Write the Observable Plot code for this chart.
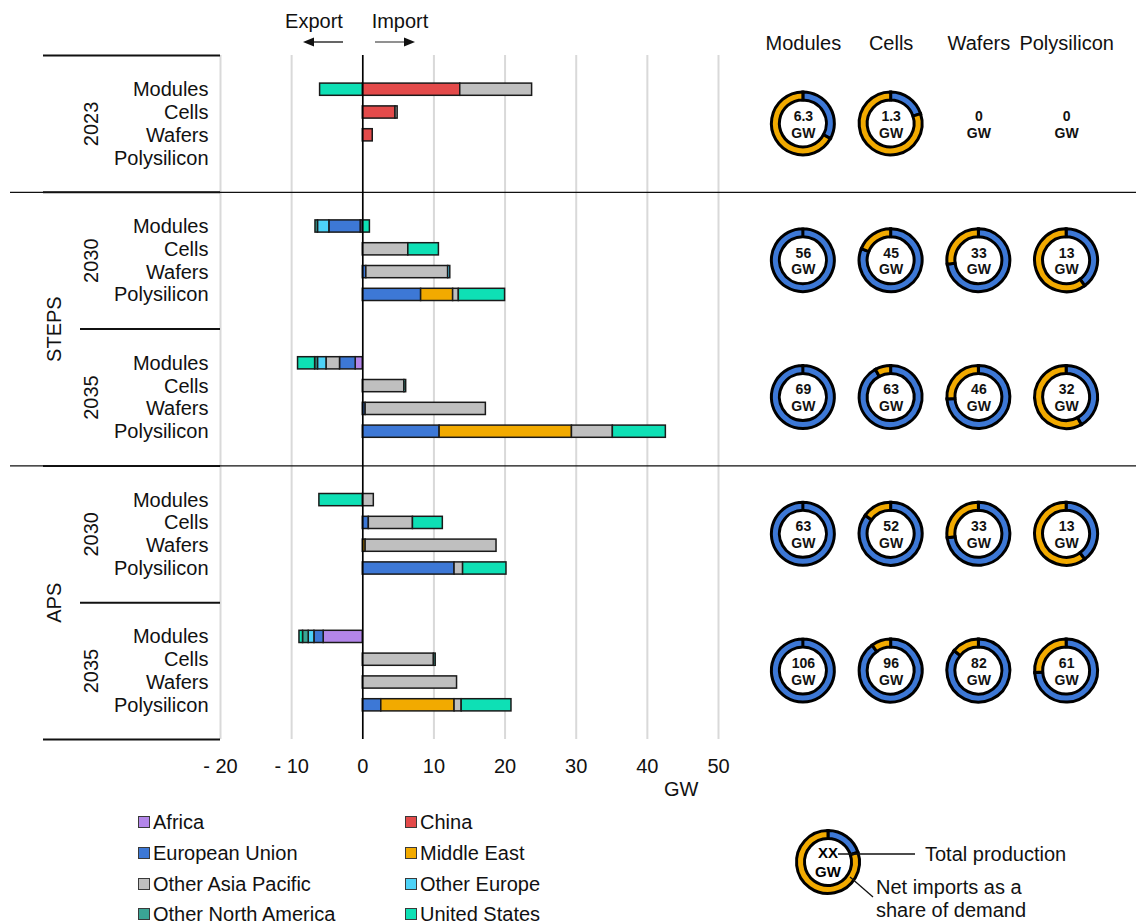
<!DOCTYPE html>
<html><head><meta charset="utf-8">
<script src="https://cdn.jsdelivr.net/npm/d3@7"></script>
<script src="https://cdn.jsdelivr.net/npm/@observablehq/plot@0.6"></script>
<style>
body{margin:0;background:#fff;font-family:"Liberation Sans",Arial,sans-serif;color:#111;}
#wrap{position:relative;width:1136px;height:924px;overflow:hidden;background:#fff;}
#wrap > svg{position:absolute;left:0;top:0;}
.leg{position:absolute;font-size:20px;line-height:18px;white-space:nowrap;display:flex;align-items:center;}
.sw{display:inline-block;width:10px;height:10px;border:1.5px solid #3a3a3a;margin-right:3px;}
</style></head><body><div id="wrap"></div>
<script>
// ---------- data ----------
const groups = ["2023", "STEPS 2030", "STEPS 2035", "APS 2030", "APS 2035"];
const groupYears = ["2023", "2030", "2035", "2030", "2035"];
const scenarios = ["STEPS", "APS"];
const stages = ["Modules", "Cells", "Wafers", "Polysilicon"];
const regions = ["Africa", "China", "European Union", "Middle East", "Other Asia Pacific", "Other Europe", "Other North America", "United States"];
const regionColors = ["#b386e9", "#e34a4a", "#3d78d6", "#f2aa00", "#bfbfbf", "#4dd2f7", "#3aa595", "#0ee0b5"];
const xTicks = [-20, -10, 0, 10, 20, 30, 40, 50];

// GW, rows = groups x stages (Modules, Cells, Wafers, Polysilicon); negative = export
const africa            = [0, 0, 0, 0,      -0.3, 0, 0, 0,      -1.0, 0, 0, 0,       0, 0, 0, 0,        -5.5, 0, 0, 0];
const china             = [13.7, 4.6, 1.4, 0, 0, 0, 0, 0,        0, 0, 0, 0,          0, 0, 0, 0,         0, 0, 0, 0];
const europeanUnion     = [0, 0, 0, 0,      -4.4, 0, 0.5, 8.2,  -2.2, 0, 0.4, 10.8,  0, 0.85, 0, 12.9,   -1.3, 0, 0, 2.6];
const middleEast        = [0, 0, 0, 0,       0, 0, 0, 4.5,       0, 0, 0, 18.6,      0, 0, 0.4, 0,        0, 0, 0, 10.3];
const otherAsiaPacific  = [10.1, 0.3, 0, 0,  0, 6.4, 11.5, 0.8, -1.9, 5.85, 16.9, 5.75, 1.55, 6.2, 18.4, 1.2, 0, 10.0, 13.25, 1.0];
const otherEurope       = [0, 0, 0, 0,      -1.6, 0, 0.3, 0,    -1.2, 0, 0, 0,       0, 0, 0, 0,        -0.8, 0, 0, 0];
const otherNorthAmerica = [0, 0, 0, 0,      -0.35, 0, 0, 0,     -0.4, 0.25, 0, 0,    0, 0, 0, 0,        -0.8, 0.25, 0, 0];
const unitedStates      = [-6.0, 0, 0, 0,    1.0, 4.3, 0, 6.5,  -2.4, 0, 0, 7.45,   -6.1, 4.2, 0, 6.1,  -0.5, 0, 0, 7.0];
const regionValues = [africa, china, europeanUnion, middleEast, otherAsiaPacific, otherEurope, otherNorthAmerica, unitedStates];

// donuts: total production (GW) and net imports as share of demand
const production = [[6.3, 1.3, 0, 0], [56, 45, 33, 13], [69, 63, 46, 32], [63, 52, 33, 13], [106, 96, 82, 61]];
const importShare = [[0.67, 0.80, 0, 0], [0, 0.19, 0.27, 0.60], [0, 0.08, 0.26, 0.58], [0, 0.15, 0.27, 0.60], [0, 0.10, 0.14, 0.26]];

const BLUE = "#3d78d6", ORANGE = "#f2aa00";
const FONT = "Liberation Sans, Arial, sans-serif";

// ---------- derived tables ----------
const slotKeys = groups.flatMap(g => [g + "|a", ...stages.map(s => g + "|" + s), g + "|b"]);
const bars = [];
groups.forEach((g, gi) => stages.forEach((s, si) => {
  const row = gi * 4 + si;
  regions.forEach((r, ri) => {
    const v = regionValues[ri][row];
    if (v !== 0) bars.push({key: g + "|" + s, region: r, value: v});
  });
}));
const donutRows = [];
groups.forEach((g, gi) => stages.forEach((s, si) =>
  donutRows.push({group: g, stage: s, prod: production[gi][si], share: importShare[gi][si]})));

const wrap = document.getElementById("wrap");
const step = 684 / 30, half = step / 2;

// ---------- main bar chart ----------
const main = Plot.plot({
  width: 1136, height: 800,
  marginLeft: 220, marginRight: 418, marginTop: 55, marginBottom: 61,
  style: {fontFamily: FONT, fontSize: "20px", background: "transparent", overflow: "visible", color: "#111"},
  x: {domain: [-20, 50], ticks: xTicks, tickFormat: d => d < 0 ? `- ${-d}` : `${d}`, tickSize: 0, tickPadding: 19, label: null},
  y: {type: "band", domain: slotKeys, padding: 0, round: false, tickSize: 0, tickPadding: 12, label: null,
      tickFormat: d => { const s = d.split("|")[1]; return stages.includes(s) ? s : ""; }},
  color: {domain: regions, range: regionColors},
  marks: [
    Plot.ruleX(xTicks, {stroke: "#d9d9d9", strokeWidth: 2}),
    // group separators
    Plot.ruleY(["2023|a"], {stroke: "#111", strokeWidth: 2, dy: -half, insetLeft: -177, insetRight: 498}),
    Plot.ruleY(["APS 2035|b"], {stroke: "#111", strokeWidth: 2, dy: half, insetLeft: -177, insetRight: 498}),
    Plot.ruleY(["STEPS 2030|a", "APS 2030|a"], {stroke: "#111", strokeWidth: 1.2, dy: -half, insetLeft: -210, insetRight: -418}),
    Plot.ruleY(["STEPS 2030|a", "APS 2030|a"], {stroke: "#111", strokeWidth: 2, dy: -half, insetLeft: -177, insetRight: 498}),
    Plot.ruleY(["STEPS 2035|a", "APS 2035|a"], {stroke: "#111", strokeWidth: 2, dy: -half, insetLeft: -140, insetRight: 498}),
    Plot.barX(bars, {x: "value", y: "key", fill: "region", stroke: "#1a1a1a", strokeWidth: 1.5, insetTop: 5.3, insetBottom: 5.3}),
    Plot.ruleX([0], {stroke: "#000", strokeWidth: 1.6}),
    Plot.text(groups, {y: g => g + "|Cells", text: g => groupYears[groups.indexOf(g)], frameAnchor: "left", textAnchor: "middle",
      dx: -129, dy: half, rotate: -90, fontSize: 20, fill: "#111"}),
    Plot.text(scenarios, {y: s => s + " 2035|a", text: s => s, frameAnchor: "left", textAnchor: "middle",
      dx: -166, dy: -half, rotate: -90, fontSize: 20, fill: "#111"}),
    Plot.text(["GW"], {frameAnchor: "bottom-right", textAnchor: "end", dx: -20, dy: 56, fontSize: 20, fill: "#111"})
  ]
});
wrap.appendChild(main);

// ---------- donuts ----------
function donutMark(...args) {
  const s = args.find(a => a && !Array.isArray(a) && typeof a.x === "function" && typeof a.y === "function");
  const g = d3.create("svg:g");
  const arc = d3.arc().innerRadius(23.5).outerRadius(31.5);
  for (const d of donutRows) {
    if (!(d.prod > 0)) continue;
    const gg = g.append("g").attr("transform", `translate(${s.x(d.stage)},${s.y(d.group)})`);
    gg.append("circle").attr("r", 22).attr("fill", "#fff");
    const split = 2 * Math.PI * (1 - d.share);
    const parts = [{a0: 0, a1: Math.min(split, 2 * Math.PI - 1e-3), c: BLUE}];
    if (d.share > 0) parts.push({a0: split, a1: 2 * Math.PI, c: ORANGE});
    for (const p of parts) {
      gg.append("path").attr("d", arc({startAngle: p.a0, endAngle: p.a1}))
        .attr("fill", p.c).attr("stroke", "#000").attr("stroke-width", 3);
    }
  }
  return g.node();
}
const donuts = Plot.plot({
  width: 1136, height: 800,
  marginLeft: 759, marginRight: 26, marginTop: 55, marginBottom: 61,
  style: {fontFamily: FONT, fontSize: "20px", background: "transparent", overflow: "visible", color: "#111"},
  x: {type: "point", domain: stages, padding: 0.5, round: false, axis: "top", tickSize: 0, tickPadding: 6, label: null},
  y: {type: "point", domain: groups, padding: 0.5, round: false, axis: null},
  marks: [
    donutMark,
    Plot.text(donutRows, {x: "stage", y: "group", text: d => `${d.prod}\nGW`, fontWeight: "bold", fontSize: 14, lineHeight: 1.2, fill: "#111"})
  ]
});
wrap.appendChild(donuts);

// ---------- Export / Import header ----------
const hdr = d3.create("svg").attr("width", 200).attr("height", 55)
  .style("position", "absolute").style("left", "260px").style("top", "0px")
  .style("font-family", FONT).style("font-size", "20px");
hdr.append("text").attr("x", 54).attr("y", 28).attr("text-anchor", "middle").attr("fill", "#111").text("Export");
hdr.append("text").attr("x", 140).attr("y", 28).attr("text-anchor", "middle").attr("fill", "#111").text("Import");
hdr.append("line").attr("x1", 83).attr("x2", 52).attr("y1", 42).attr("y2", 42).attr("stroke", "#111").attr("stroke-width", 1.3);
hdr.append("path").attr("d", "M43,42 L54,37.5 L54,46.5 Z").attr("fill", "#111");
hdr.append("line").attr("x1", 115).attr("x2", 146).attr("y1", 42).attr("y2", 42).attr("stroke", "#555").attr("stroke-width", 1.3);
hdr.append("path").attr("d", "M155,42 L144,37.5 L144,46.5 Z").attr("fill", "#111");
wrap.appendChild(hdr.node());

// ---------- legend ----------
const legendPos = [[138, 822], [405, 822], [138, 853], [405, 853], [138, 884], [405, 884], [138, 914], [405, 914]];
regions.forEach((r, i) => {
  const el = document.createElement("div");
  el.className = "leg";
  el.style.left = legendPos[i][0] + "px";
  el.style.top = (legendPos[i][1] - 9) + "px";
  el.innerHTML = `<span class="sw" style="background:${regionColors[i]}"></span><span>${r}</span>`;
  wrap.appendChild(el);
});

// ---------- donut key ----------
const key = d3.create("svg").attr("width", 356).attr("height", 109)
  .style("position", "absolute").style("left", "780px").style("top", "815px")
  .style("font-family", FONT).style("font-size", "20px");
const kg = key.append("g").attr("transform", "translate(48,47)");
const karc = d3.arc().innerRadius(23.5).outerRadius(31.5);
kg.append("circle").attr("r", 22).attr("fill", "#fff");
kg.append("path").attr("d", karc({startAngle: 0, endAngle: 2 * Math.PI * 0.2})).attr("fill", BLUE).attr("stroke", "#000").attr("stroke-width", 3);
kg.append("path").attr("d", karc({startAngle: 2 * Math.PI * 0.2, endAngle: 2 * Math.PI})).attr("fill", ORANGE).attr("stroke", "#000").attr("stroke-width", 3);
kg.append("text").attr("y", -9).attr("text-anchor", "middle").attr("dy", "0.35em").attr("font-weight", "bold").attr("font-size", 15).text("XX");
kg.append("text").attr("y", 10).attr("text-anchor", "middle").attr("dy", "0.35em").attr("font-weight", "bold").attr("font-size", 15).text("GW");
key.append("line").attr("x1", 58).attr("x2", 135).attr("y1", 39).attr("y2", 39).attr("stroke", "#111").attr("stroke-width", 1.3);
key.append("text").attr("x", 145).attr("y", 39).attr("dy", "0.35em").attr("fill", "#111").text("Total production");
key.append("line").attr("x1", 70).attr("x2", 93).attr("y1", 62).attr("y2", 82).attr("stroke", "#111").attr("stroke-width", 1.3);
key.append("text").attr("x", 96).attr("y", 72).attr("dy", "0.35em").attr("fill", "#111").text("Net imports as a");
key.append("text").attr("x", 96).attr("y", 95).attr("dy", "0.35em").attr("fill", "#111").text("share of demand");
wrap.appendChild(key.node());
</script></body></html>
